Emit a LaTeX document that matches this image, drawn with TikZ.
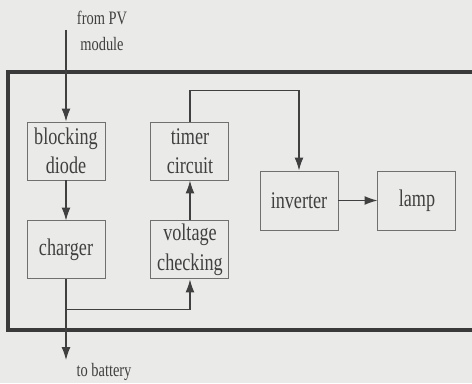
\documentclass[tikz,border=0pt]{standalone}
\usepackage{fontspec}
\setmainfont{Liberation Serif}[FakeStretch=0.76]
\usepackage{tikz}
\usetikzlibrary{arrows.meta,positioning,calc}
\definecolor{scanbg}{HTML}{EAEAE8}
\definecolor{inkgray}{HTML}{404040}
\definecolor{boxgray}{HTML}{707070}

\begin{document}
\begin{tikzpicture}[
  block/.style={draw=boxgray, line width=0.7pt, fill=scanbg, text=inkgray,
                minimum width=19.5mm, minimum height=14.5mm, align=center,
                font=\fontsize{17}{21}\selectfont, inner sep=1pt},
  flow/.style={-{Latex[length=3.2mm,width=2.2mm]}, line width=0.8pt, draw=inkgray},
  frame/.style={draw=inkgray!90!black, line width=2.2pt},
  note/.style={font=\fontsize{13.5}{19}\selectfont, text=inkgray, align=center},
]
  \useasboundingbox[fill=scanbg] (0,0) rectangle (11.8,9.575);

  % enclosure ----------------------------------------------------------------
  \draw[frame] (11.95,7.775) -- (0.2,7.775) -- (0.2,1.325) -- (11.95,1.325);

  % blocks -------------------------------------------------------------------
  \node[block] (diode) at (1.65,5.8) {blocking\\diode};
  \node[block, below=10mm of diode] (charger) {charger};
  \node[block, right=11.25mm of diode] (timer) {timer\\circuit};
  \node[block, below=10mm of timer] (voltage) {voltage\\checking};
  \node[block, minimum height=14.75mm] (inverter) at (7.475,4.5625) {inverter};
  \node[block, minimum height=14.75mm, right=9.75mm of inverter] (lamp) {lamp};

  % terminals ----------------------------------------------------------------
  \coordinate (pv) at (1.65,8.825);
  \coordinate (battery) at (1.65,0.575);
  \node[note] (pvnote) at (2.55,8.8) {from PV\\module};
  \node[note] (batnote) at (2.6,0.27) {to battery};

  % connections --------------------------------------------------------------
  \draw[flow] (pv) -- (diode);
  \draw[flow] (diode) -- (charger);
  \draw[flow] (charger) -- (battery);
  \coordinate (tap) at ($(charger.south)!0.37!(battery)$);
  \draw[flow] (tap) -| (voltage.south);
  \draw[flow] (voltage) -- (timer);
  \coordinate (bend) at ($(timer.north)+(0,0.775)$);
  \draw[flow] (timer.north) -- (bend) -| (inverter.north);
  \draw[flow] (inverter) -- (lamp);
\end{tikzpicture}
\end{document}
